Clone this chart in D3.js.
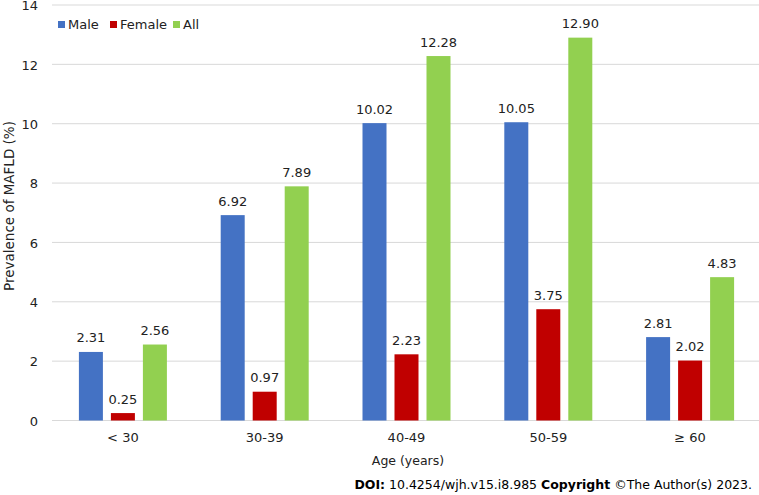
<!DOCTYPE html>
<html><head><meta charset="utf-8">
<script src="https://cdn.jsdelivr.net/npm/d3@7"></script>
<style>body{margin:0;background:#fff}svg{display:block}text{font-family:"DejaVu Sans",Verdana,sans-serif}</style>
</head><body>
<svg id="c" width="759" height="495"></svg>
<script>
const categories = ["< 30", "30-39", "40-49", "50-59", "≥ 60"];
const seriesNames = ["Male", "Female", "All"];
const male = [2.31, 6.92, 10.02, 10.05, 2.81];
const female = [0.25, 0.97, 2.23, 3.75, 2.02];
const all = [2.56, 7.89, 12.28, 12.90, 4.83];
const yTicks = [0, 2, 4, 6, 8, 10, 12, 14];
const colors = ["#4472C4", "#C00000", "#92D050"];

(function () {
const seriesValues = [male, female, all];
const svg = d3.select("#c");
const mLeft = 52, mRight = 761, mTop = 5, mBottom = 420.5;
const groupW = 88;
const x = d3.scaleBand().domain(categories).range([mLeft, mRight]);
const xs = d3.scaleBand().domain(seriesNames).range([0, groupW]).paddingInner(0.25);
const y = d3.scaleLinear().domain([0, 14]).range([mBottom, mTop]);

svg.append("g").selectAll("line").data(yTicks).join("line")
  .attr("x1", mLeft).attr("x2", 759)
  .attr("y1", d => y(d)).attr("y2", d => y(d))
  .attr("stroke", "#d9d9d9").attr("stroke-width", 1);

const yAxis = d3.axisLeft(y).tickValues(yTicks).tickSize(0).tickPadding(0).tickFormat(d3.format("d"));
const gy = svg.append("g").attr("transform", `translate(38,0.5)`).call(yAxis);
gy.select(".domain").remove();
gy.selectAll("text").attr("font-size", 13).attr("fill", "#222").attr("font-family", '"DejaVu Sans",Verdana,sans-serif');

const xAxis = d3.axisBottom(x).tickSize(0).tickPadding(0);
const gx = svg.append("g").attr("transform", `translate(0,${mBottom + 12})`).call(xAxis);
gx.select(".domain").remove();
gx.selectAll("text").attr("font-size", 13).attr("fill", "#222").attr("font-family", '"DejaVu Sans",Verdana,sans-serif');

categories.forEach((c, i) => {
  const g = svg.append("g").attr("transform", `translate(${x(c) + (x.bandwidth() - groupW) / 2},0)`);
  seriesNames.forEach((s, j) => {
    const v = seriesValues[j][i];
    g.append("rect").attr("x", xs(s)).attr("width", xs.bandwidth())
      .attr("y", y(v)).attr("height", y(0) - y(v)).attr("fill", colors[j]);
    g.append("text").attr("x", xs(s) + xs.bandwidth() / 2).attr("y", y(v) - 9.5)
      .attr("text-anchor", "middle").attr("font-size", 13).attr("fill", "#222")
      .text(v.toFixed(2));
  });
});

svg.append("text").attr("transform", "translate(14,206) rotate(-90)")
  .attr("text-anchor", "middle").attr("font-size", 13.5).attr("fill", "#222")
  .text("Prevalence of MAFLD (%)");
svg.append("text").attr("x", 408).attr("y", 465).attr("text-anchor", "middle")
  .attr("font-size", 12.5).attr("fill", "#222").text("Age (years)");

const legX = [58, 110, 173];
seriesNames.forEach((s, j) => {
  svg.append("rect").attr("x", legX[j]).attr("y", 21).attr("width", 7).attr("height", 7).attr("fill", colors[j]);
  svg.append("text").attr("x", legX[j] + 10).attr("y", 29).attr("font-size", 13).attr("fill", "#222").text(s);
});

const foot = svg.append("text").attr("x", 752).attr("y", 489).attr("text-anchor", "end")
  .attr("font-size", 12.5).attr("fill", "#000");
foot.append("tspan").attr("font-weight", "bold").text("DOI:");
foot.append("tspan").text(" 10.4254/wjh.v15.i8.985 ");
foot.append("tspan").attr("font-weight", "bold").text("Copyright");
foot.append("tspan").text(" ©The Author(s) 2023.");
})();
</script>
</body></html>
